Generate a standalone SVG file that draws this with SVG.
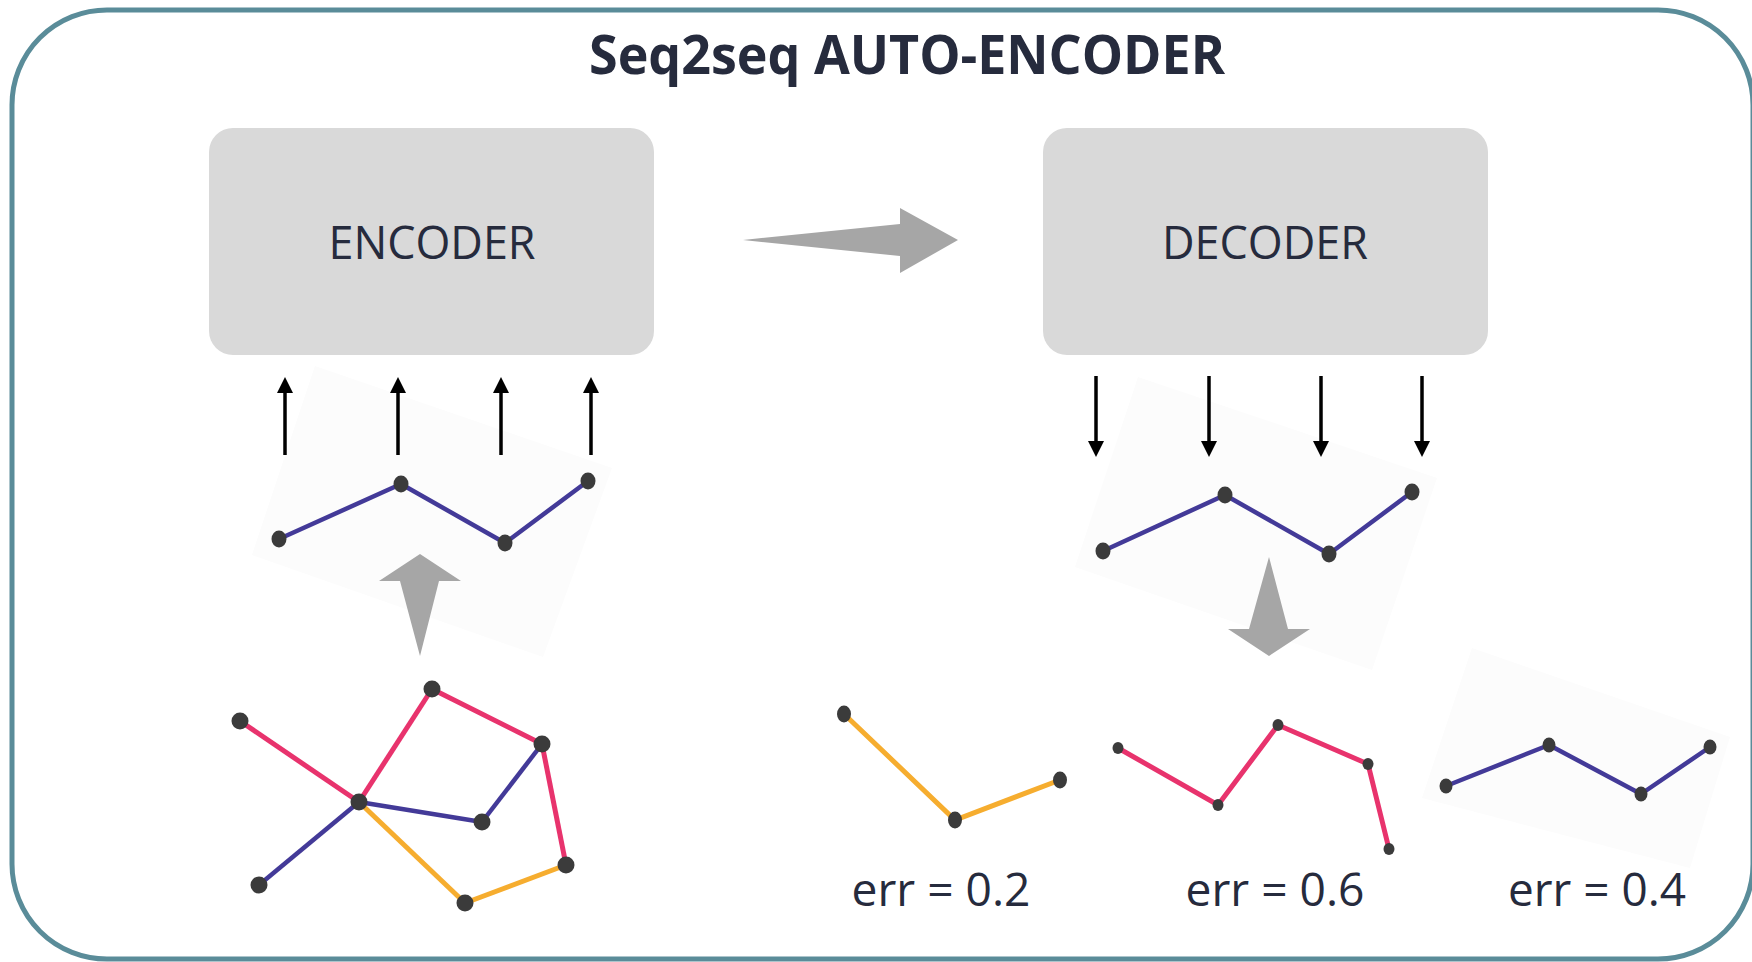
<svg xmlns="http://www.w3.org/2000/svg" width="1752" height="962" viewBox="0 0 1752 962">
<defs>
<marker id="ah" viewBox="0 0 16 16" markerWidth="16" markerHeight="16" markerUnits="userSpaceOnUse" refX="8" refY="8" orient="auto">
<path d="M0,0 L16,8 L0,16 z" fill="#000"/>
</marker>
</defs>
<style>
.box{fill:#d9d9d9}
.lbl{font-family:"Open Sans","Liberation Sans",sans-serif;fill:#262b3d;text-anchor:middle}
.bg{fill:#fcfcfc}
.ind{stroke:#433a98;fill:none;stroke-width:4.5;stroke-linejoin:round}
.pnk{stroke:#e8336d;fill:none;stroke-width:5}
.org{stroke:#f6ad2f;fill:none;stroke-width:5}
.dot{fill:#3b3b3b}
.big{fill:#a6a6a6}
.ar{stroke:#000;stroke-width:3.5;marker-end:url(#ah)}
</style>
<rect x="0" y="0" width="1752" height="962" fill="#fff"/>
<rect id="frame" x="12" y="10" width="1741" height="949" rx="95" ry="95" fill="none" stroke="#5a8c99" stroke-width="5"/>
<text id="title" x="907" y="74" class="lbl" font-size="54" font-weight="bold" textLength="636" lengthAdjust="spacingAndGlyphs">Seq2seq AUTO-ENCODER</text>

<g id="encoder">
<rect class="box" x="209" y="128" width="445" height="227" rx="24"/>
<text class="lbl" x="432" y="259" font-size="45" textLength="207" lengthAdjust="spacingAndGlyphs">ENCODER</text>
</g>
<g id="decoder">
<rect class="box" x="1043" y="128" width="445" height="227" rx="24"/>
<text class="lbl" x="1265" y="259" font-size="45" textLength="206" lengthAdjust="spacingAndGlyphs">DECODER</text>
</g>

<g id="input-seq">
<polygon class="bg" points="315,366 612,468 543,657 252,555"/>
<polyline class="ind" points="279,539 401,484 505,543 588,481"/>
<ellipse class="dot" cx="279" cy="539" rx="7.5" ry="8.5"/>
<ellipse class="dot" cx="401" cy="484" rx="7.5" ry="8.5"/>
<ellipse class="dot" cx="505" cy="543" rx="7.5" ry="8.5"/>
<ellipse class="dot" cx="588" cy="481" rx="7.5" ry="8.5"/>
</g>

<g id="output-seq">
<polygon class="bg" points="1138,377 1437,478 1372,670 1075,567"/>
<polyline class="ind" points="1103,551 1225,495 1329,554 1412,492"/>
<ellipse class="dot" cx="1103" cy="551" rx="7.5" ry="8.5"/>
<ellipse class="dot" cx="1225" cy="495" rx="7.5" ry="8.5"/>
<ellipse class="dot" cx="1329" cy="554" rx="7.5" ry="8.5"/>
<ellipse class="dot" cx="1412" cy="492" rx="7.5" ry="8.5"/>
</g>

<g id="graph">
<line class="pnk" x1="240" y1="721" x2="359" y2="802"/>
<line class="pnk" x1="359" y1="802" x2="432" y2="689"/>
<line class="pnk" x1="432" y1="689" x2="542" y2="744"/>
<line class="pnk" x1="542" y1="744" x2="566" y2="865"/>
<line class="ind" stroke-width="5" x1="359" y1="802" x2="482" y2="822"/>
<line class="ind" stroke-width="5" x1="482" y1="822" x2="542" y2="744"/>
<line class="ind" stroke-width="5" x1="259" y1="885" x2="359" y2="802"/>
<line class="org" x1="359" y1="802" x2="465" y2="903"/>
<line class="org" x1="465" y1="903" x2="566" y2="865"/>
<circle class="dot" cx="240" cy="721" r="8.5"/>
<circle class="dot" cx="432" cy="689" r="8.5"/>
<circle class="dot" cx="542" cy="744" r="8.5"/>
<circle class="dot" cx="359" cy="802" r="8.5"/>
<circle class="dot" cx="482" cy="822" r="8.5"/>
<circle class="dot" cx="566" cy="865" r="8.5"/>
<circle class="dot" cx="259" cy="885" r="8.5"/>
<circle class="dot" cx="465" cy="903" r="8.5"/>
</g>

<g id="result-1">
<polyline class="org" points="844,714 955,820 1060,780"/>
<ellipse class="dot" cx="844" cy="714" rx="7" ry="8.5"/>
<ellipse class="dot" cx="955" cy="820" rx="7" ry="8.5"/>
<ellipse class="dot" cx="1060" cy="780" rx="7" ry="8.5"/>
<text class="lbl" x="941" y="906" font-size="45" textLength="179" lengthAdjust="spacingAndGlyphs">err = 0.2</text>
</g>
<g id="result-2">
<polyline class="pnk" stroke-width="3.5" points="1118,748 1218,805 1278,725 1368,764 1389,849"/>
<ellipse class="dot" cx="1118" cy="748" rx="5.5" ry="6"/>
<ellipse class="dot" cx="1218" cy="805" rx="5.5" ry="6"/>
<ellipse class="dot" cx="1278" cy="725" rx="5.5" ry="6"/>
<ellipse class="dot" cx="1368" cy="764" rx="5.5" ry="6"/>
<ellipse class="dot" cx="1389" cy="849" rx="5.5" ry="6"/>
<text class="lbl" x="1275" y="906" font-size="45" textLength="179" lengthAdjust="spacingAndGlyphs">err = 0.6</text>
</g>
<g id="result-3">
<polygon class="bg" points="1472,648 1730,737 1690,868 1422,798"/>
<polyline class="ind" points="1446,786 1549,745 1641,794 1710,747"/>
<ellipse class="dot" cx="1446" cy="786" rx="6.5" ry="7.5"/>
<ellipse class="dot" cx="1549" cy="745" rx="6.5" ry="7.5"/>
<ellipse class="dot" cx="1641" cy="794" rx="6.5" ry="7.5"/>
<ellipse class="dot" cx="1710" cy="747" rx="6.5" ry="7.5"/>
<text class="lbl" x="1597" y="906" font-size="45" textLength="178" lengthAdjust="spacingAndGlyphs">err = 0.4</text>
</g>

<g id="connectors">
<polygon class="big" points="743,240 900,224 900,208 958,240 900,273 900,256"/>
<polygon class="big" points="420,554 461,581 439,581 420,656 400,581 379,581"/>
<polygon class="big" points="1269,557 1288,629 1310,629 1269,656 1228,629 1249,629"/>
<line class="ar" x1="285" y1="455" x2="285" y2="385"/>
<line class="ar" x1="398" y1="455" x2="398" y2="385"/>
<line class="ar" x1="501" y1="455" x2="501" y2="385"/>
<line class="ar" x1="591" y1="455" x2="591" y2="385"/>
<line class="ar" x1="1096" y1="376" x2="1096" y2="449"/>
<line class="ar" x1="1209" y1="376" x2="1209" y2="449"/>
<line class="ar" x1="1321" y1="376" x2="1321" y2="449"/>
<line class="ar" x1="1422" y1="376" x2="1422" y2="449"/>
</g>
</svg>
